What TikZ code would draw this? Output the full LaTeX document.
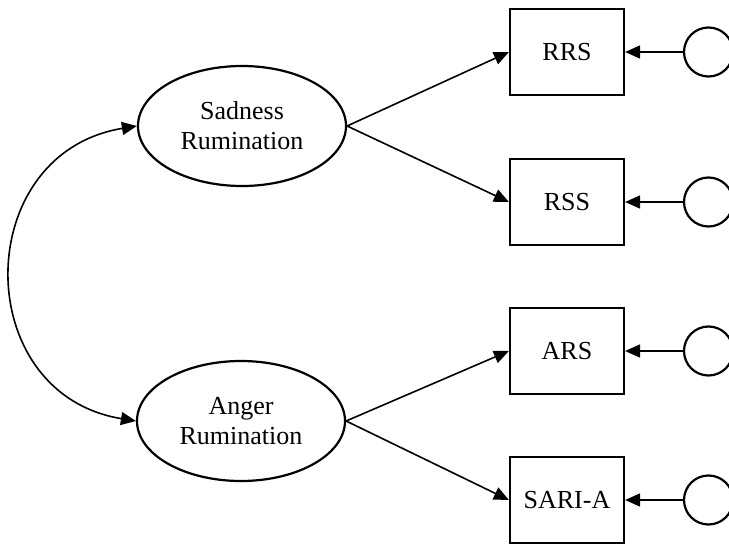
\documentclass[tikz,border=0pt]{standalone}
\usepackage{fontspec}
\setmainfont{Liberation Serif}
\usetikzlibrary{shapes.geometric,arrows.meta}
\begin{document}
\begin{tikzpicture}[x=1pt,y=-1pt,
  latent/.style={ellipse,draw,line width=2.2pt,minimum width=208pt,minimum height=120pt,
    inner sep=0pt,align=center,font=\fontsize{26}{30}\selectfont},
  indicator/.style={rectangle,draw,line width=2.2pt,minimum width=114pt,minimum height=86pt,
    inner sep=0pt,font=\fontsize{26}{30}\selectfont},
  errterm/.style={circle,draw,line width=2.2pt,minimum size=49pt,inner sep=0pt},
  link/.style={line width=1.6pt,-{Triangle[length=15pt,width=13pt]}},
  covar/.style={line width=1.6pt,{Triangle[length=15pt,width=13pt]}-{Triangle[length=15pt,width=13pt]}}
  ]
\useasboundingbox (0,0) rectangle (729,546);
\clip (0,0) rectangle (729,546);

% latent factors
\node[latent] (sad) at (242,126) {Sadness\\Rumination};
\node[latent] (ang) at (241,421) {Anger\\Rumination};

% observed indicators
\node[indicator] (rrs)  at (567,52)  {RRS};
\node[indicator] (rss)  at (567,202) {RSS};
\node[indicator] (ars)  at (567,351) {ARS};
\node[indicator] (sari) at (567,500) {SARI-A};

% residual terms
\node[errterm] (e1) at (708.5,52)  {};
\node[errterm] (e2) at (708.5,202) {};
\node[errterm] (e3) at (708.5,351) {};
\node[errterm] (e4) at (708.5,500) {};

% loadings
\draw[link] (sad.east) -- (rrs.west);
\draw[link] (sad.east) -- (rss.west);
\draw[link] (ang.east) -- (ars.west);
\draw[link] (ang.east) -- (sari.west);

% residuals
\draw[link] (e1.west) -- (rrs.east);
\draw[link] (e2.west) -- (rss.east);
\draw[link] (e3.west) -- (ars.east);
\draw[link] (e4.west) -- (sari.east);

% factor covariance
\draw[covar] (sad.west) .. controls +(-166.5,27.3) and +(-166.5,-27.3) .. (ang.west);
\end{tikzpicture}
\end{document}
